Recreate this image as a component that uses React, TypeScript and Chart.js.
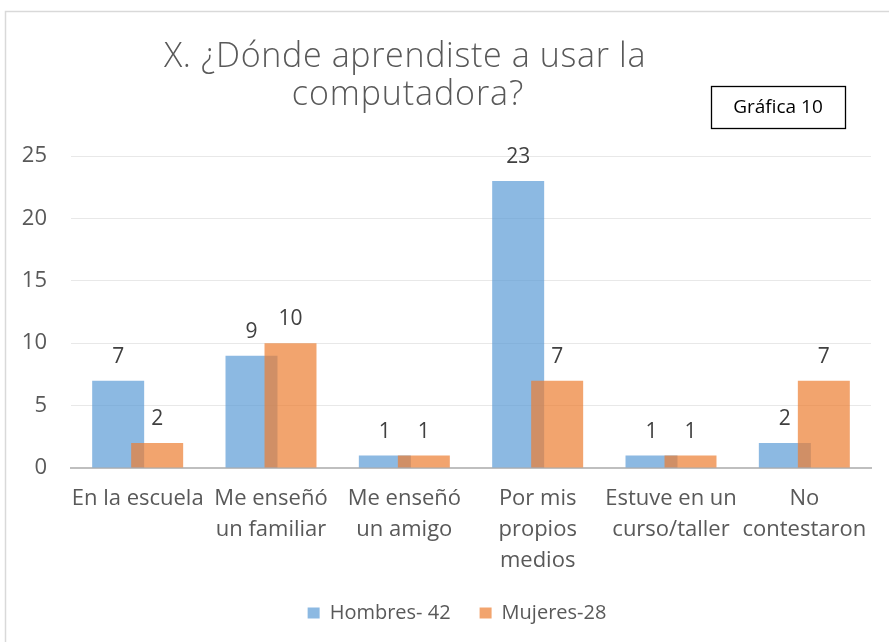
import React, { useEffect, useRef } from "react";
import { Chart, registerables } from "chart.js";

Chart.register(...registerables);

const categories: string[][] = [
  ["En la escuela"],
  ["Me enseñó", "un familiar"],
  ["Me enseñó", "un amigo"],
  ["Por mis", "propios", "medios"],
  ["Estuve en un", "curso/taller"],
  ["No", "contestaron"],
];
const hombres = [7, 9, 1, 23, 1, 2];
const mujeres = [2, 10, 1, 7, 1, 7];
const seriesNames = ["Hombres- 42", "Mujeres-28"];
const titleLines = ["X. ¿Dónde aprendiste a usar la", "computadora?"];
const badgeText = "Gráfica 10";
const yMin = 0;
const yMax = 25;
const yStep = 5;

const FONT = '"Open Sans", "Noto Sans", sans-serif';

const orderPlugin = {
  id: "orderAndLabels",
  beforeDatasetDraw() {
    return false;
  },
  afterDatasetsDraw(chart: any) {
    const ctx = chart.ctx;
    const n = chart.data.datasets.length;
    for (let i = 0; i < n; i++) {
      const meta = chart.getDatasetMeta(i);
      if (!meta.hidden) meta.controller.draw();
    }
    ctx.save();
    ctx.font = `21px ${FONT}`;
    ctx.fillStyle = "#404040";
    ctx.textAlign = "center";
    ctx.textBaseline = "alphabetic";
    for (let i = 0; i < n; i++) {
      const meta = chart.getDatasetMeta(i);
      const data = chart.data.datasets[i].data;
      meta.data.forEach((el: any, j: number) => {
        ctx.fillText(String(data[j]), el.x, el.y - 18);
      });
    }
    ctx.restore();
  },
};

const legendShiftPlugin = {
  id: "legendShift",
  afterLayout(chart: any) {
    if (chart.legend) {
      chart.legend.left += 43;
    }
  },
};

const decorPlugin = {
  id: "decor",
  afterDraw(chart: any) {
    const ctx = chart.ctx;
    ctx.save();
    // outer frame
    ctx.strokeStyle = "#D9D9D9";
    ctx.lineWidth = 1.5;
    ctx.strokeRect(5.5, 11.5, 1000, 1000);
    // title
    ctx.fillStyle = "#595959";
    ctx.font = `300 34px ${FONT}`;
    (ctx as any).letterSpacing = "0.65px";
    ctx.textAlign = "center";
    ctx.textBaseline = "alphabetic";
    ctx.fillText(titleLines[0], 405, 67);
    (ctx as any).letterSpacing = "0.9px";
    ctx.fillText(titleLines[1], 408, 105);
    (ctx as any).letterSpacing = "0px";
    // badge
    ctx.fillStyle = "#FFFFFF";
    ctx.fillRect(711, 86, 135, 43);
    ctx.strokeStyle = "#000000";
    ctx.lineWidth = 1.3;
    ctx.strokeRect(711.5, 86.5, 134, 42);
    ctx.fillStyle = "#000000";
    ctx.font = `19px ${FONT}`;
    ctx.textBaseline = "middle";
    ctx.fillText(badgeText, 778, 108);
    ctx.restore();
  },
};

export default function App() {
  const ref = useRef<HTMLCanvasElement | null>(null);

  useEffect(() => {
    document.body.style.margin = "0";
    const canvas = ref.current;
    if (!canvas) return;
    const chart = new Chart(canvas, {
      type: "bar",
      data: {
        labels: categories,
        datasets: [
          {
            label: seriesNames[0],
            data: hombres,
            backgroundColor: "rgba(91,155,213,0.7)",
            borderWidth: 0,
            categoryPercentage: 0.585,
            barPercentage: 1.333,
          },
          {
            label: seriesNames[1],
            data: mujeres,
            backgroundColor: "rgba(237,125,49,0.7)",
            borderWidth: 0,
            categoryPercentage: 0.585,
            barPercentage: 1.333,
          },
        ],
      },
      options: {
        responsive: false,
        animation: false,
        devicePixelRatio: 1,
        layout: { padding: { top: 156, left: 0, right: 18, bottom: 9 } },
        plugins: {
          title: { display: false },
          tooltip: { enabled: false },
          legend: {
            position: "bottom",
            labels: {
              boxWidth: 12,
              boxHeight: 11,
              padding: 29,
              color: "#595959",
              font: { size: 20, family: FONT },
            },
          },
        },
        scales: {
          x: {
            grid: { display: false },
            border: { display: true, color: "#BFBFBF", width: 2 },
            ticks: {
              color: "#595959",
              font: { size: 22, family: FONT, lineHeight: 1.41 },
              padding: 7,
              maxRotation: 0,
              autoSkip: false,
            },
            afterFit(scale: any) {
              scale.height = 106;
            },
          },
          y: {
            min: yMin,
            max: yMax,
            grid: { color: "#E8E8E8", drawTicks: false, lineWidth: 1 },
            border: { display: false },
            ticks: {
              stepSize: yStep,
              color: "#595959",
              font: { size: 22, family: FONT },
              padding: 24,
            },
            afterFit(scale: any) {
              scale.width = 71;
            },
          },
        },
      },
      plugins: [orderPlugin, legendShiftPlugin, decorPlugin],
    });
    return () => chart.destroy();
  }, []);

  return (
    <div style={{ width: 889, height: 642, background: "#fff" }}>
      <canvas ref={ref} width={889} height={642} style={{ display: "block" }} />
    </div>
  );
}
